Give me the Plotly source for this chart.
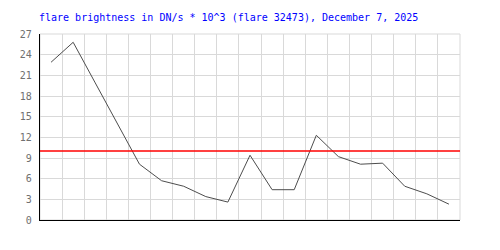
import plotly.graph_objects as go

TITLE = "flare brightness in DN/s * 10^3 (flare 32473), December 7, 2025"
brightness = [22.9, 25.8, 19.9, 13.9, 8.1, 5.7, 4.9, 3.4, 2.6, 9.4,
              4.4, 4.4, 12.3, 9.2, 8.1, 8.25, 4.9, 3.8, 2.3]
threshold = 10
y_ticks = [0, 3, 6, 9, 12, 15, 18, 21, 24, 27]

x_pos = [i + 0.5 for i in range(len(brightness))]

fig = go.Figure()
fig.add_trace(go.Scatter(x=x_pos, y=brightness, mode="lines",
                         line=dict(color="#4d4d4d", width=1),
                         hoverinfo="skip", showlegend=False))

fig.add_shape(type="line", xref="paper", yref="y", x0=0, x1=1,
              y0=threshold, y1=threshold, line=dict(color="#ff0000", width=1.5))
# light gray frame (top/right)
fig.add_shape(type="rect", xref="paper", yref="paper", x0=0, x1=1, y0=0, y1=1,
              line=dict(color="#d9d9d9", width=1), layer="below")

fig.update_layout(
    width=500, height=250,
    margin=dict(l=40, r=40, t=34, b=30),
    paper_bgcolor="white", plot_bgcolor="white",
    title=dict(text=TITLE, x=39/500, xanchor="left", xref="container",
               y=1 - 17/250, yanchor="middle",
               font=dict(family="DejaVu Sans Mono", size=10, color="#0000ff")),
    xaxis=dict(range=[0, len(brightness)], dtick=1, tick0=0, showticklabels=False,
               showgrid=True, gridcolor="#d9d9d9", gridwidth=1, zeroline=False,
               showline=True, linecolor="black", linewidth=1.2, ticks=""),
    yaxis=dict(range=[0, 27], tickvals=y_ticks, showgrid=True, gridcolor="#d9d9d9",
               gridwidth=1, zeroline=False, showline=True, linecolor="black",
               linewidth=1.2, ticks="", ticklabelstandoff=5,
               tickfont=dict(family="DejaVu Sans Mono", size=10, color="#707070")),
)

fig.write_html("out.html")
